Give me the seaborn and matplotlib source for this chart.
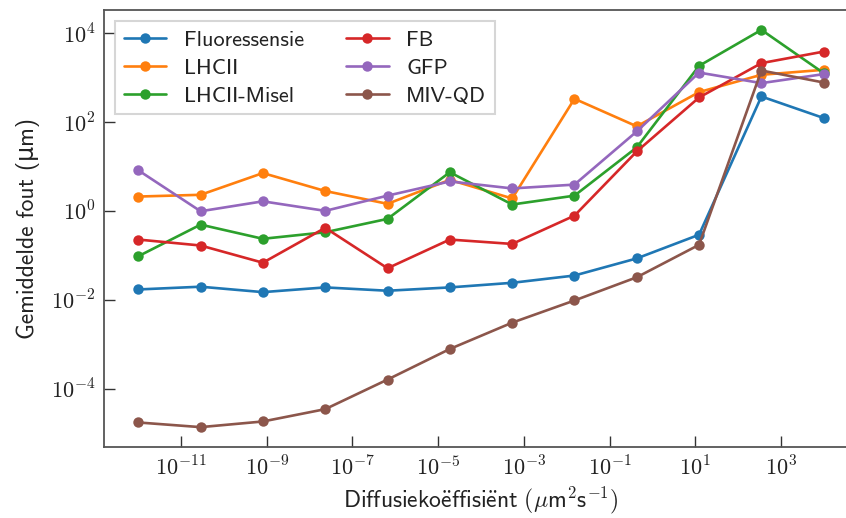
import numpy as np
import pandas as pd
import matplotlib
matplotlib.use("Agg")
import matplotlib.pyplot as plt
from matplotlib.ticker import FuncFormatter
from matplotlib.lines import Line2D
import seaborn as sns

# ---- data ----
diffusion = [1e-12, 2.85e-11, 8.1e-10, 2.31e-8, 6.58e-7, 1.87e-5,
             5.34e-4, 1.52e-2, 0.433, 12.3, 351.0, 1e4]

fluoressensie = [0.017, 0.0196, 0.0148, 0.0189, 0.0159, 0.0189,
                 0.024, 0.035, 0.085, 0.29, 376, 123]
lhcii = [2.1, 2.3, 7.1, 2.8, 1.44, 5.0,
         1.9, 334, 80, 472, 1160, 1500]
lhcii_misel = [0.095, 0.49, 0.235, 0.33, 0.66, 7.4,
               1.39, 2.2, 26.9, 1840, 11900, 1260]
fb = [0.226, 0.166, 0.068, 0.415, 0.051, 0.226,
      0.18, 0.78, 21.8, 357, 2120, 3860]
gfp = [8.2, 0.98, 1.64, 1.0, 2.2, 4.6,
       3.2, 3.9, 61.5, 1300, 752, 1200]
miv_qd = [1.72e-5, 1.35e-5, 1.81e-5, 3.43e-5, 1.59e-4, 7.76e-4,
          3.04e-3, 9.6e-3, 0.032, 0.172, 1445, 776]

series_names = ["Fluoressensie", "LHCII", "LHCII-Misel", "FB", "GFP", "MIV-QD"]
series_values = [fluoressensie, lhcii, lhcii_misel, fb, gfp, miv_qd]

xticks = [1e-11, 1e-9, 1e-7, 1e-5, 1e-3, 1e-1, 1e1, 1e3]
yticks = [1e-4, 1e-2, 1e0, 1e2, 1e4]

xlabel = (r'$\mathsf{Diffusieko\"{e}ffisi\"{e}nt\ (}\mu\mathsf{m}'
          r'^{\mathsf{2}}\mathsf{s}^{-\mathsf{1}}\mathsf{)}$')
ylabel = "Gemiddelde fout (μm)"

rows = []
for name, vals in zip(series_names, series_values):
    for d, v in zip(diffusion, vals):
        rows.append({"D": d, "err": v, "series": name})
df = pd.DataFrame(rows)

# ---- style ----
sns.set_theme(style="ticks")
plt.rcParams["font.family"] = ["cmss10", "DejaVu Sans"]
plt.rcParams["mathtext.fontset"] = "cm"
plt.rcParams["axes.unicode_minus"] = True

fig = plt.figure(figsize=(8.46, 5.18), dpi=100)
ax = fig.add_axes([104 / 846, 71 / 518, 754 / 846, 437 / 518])

palette = sns.color_palette("tab10", 6)
sns.lineplot(data=df, x="D", y="err", hue="series", hue_order=series_names,
             palette=palette, marker="o", markersize=7.5, markeredgewidth=0,
             linewidth=1.9, estimator=None, sort=False, ax=ax, legend=False)

ax.set_xscale("log")
ax.set_yscale("log")
ax.set_xticks(xticks)
ax.set_yticks(yticks)
ax.minorticks_off()
fmt = FuncFormatter(lambda v, p: r"$10^{%d}$" % int(round(np.log10(v))))
ax.xaxis.set_major_formatter(fmt)
ax.yaxis.set_major_formatter(fmt)

for s in ax.spines.values():
    s.set_color("#555555")
    s.set_linewidth(1.3)
ax.tick_params(axis="both", which="major", direction="in", length=8,
               width=1.0, color="#333333", labelsize=16, pad=6,
               labelcolor="#222222")

ax.set_xlabel(xlabel, fontsize=17, color="#222222", labelpad=4)
ax.set_ylabel(ylabel, fontsize=17, color="#222222", labelpad=8)

handles = [Line2D([], [], color=c, marker="o", markersize=7.5,
                  markeredgewidth=0, linewidth=1.9) for c in palette]
leg = ax.legend(handles, series_names, loc="upper left", ncol=2,
                fontsize=16, frameon=True, fancybox=False,
                borderaxespad=0.5, labelspacing=0.38, columnspacing=1.9,
                handlelength=1.9)
leg.get_frame().set_edgecolor("#cccccc")
leg.get_frame().set_linewidth(1.5)
for t in leg.get_texts():
    t.set_color("#222222")

fig.savefig("out.png", dpi=100)
